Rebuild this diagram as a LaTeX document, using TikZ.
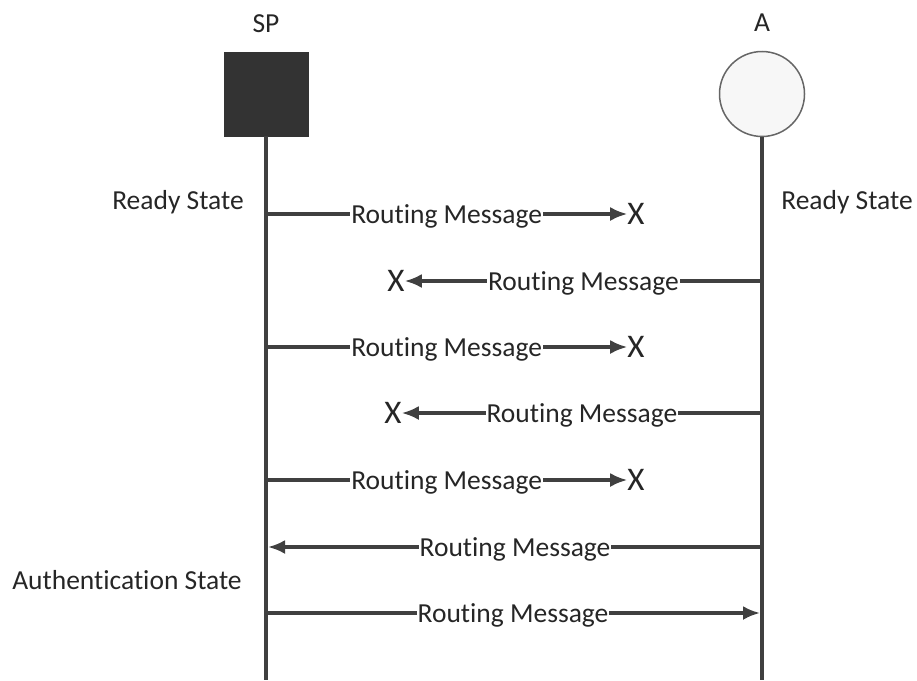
\documentclass[tikz,border=0pt]{standalone}
\usepackage{fontspec}
\setmainfont{Carlito}[Ligatures=NoCommon]
\usetikzlibrary{positioning, arrows.meta}
\definecolor{linegray}{HTML}{404040}
\definecolor{boxgray}{HTML}{333333}
\definecolor{textgray}{HTML}{262626}

\begin{document}
\begin{tikzpicture}[
        x=1pt, y=-1pt,
        every node/.style={font=\fontsize{27.5}{33}\selectfont, text=textgray},
        lifeline/.style={draw=linegray, line width=4.5pt},
        msg/.style={draw=linegray, line width=3.2pt, -{Latex[length=17pt,width=14pt]}},
        lbl/.style={fill=white, inner sep=1pt, text height=18pt, text depth=0pt},
        lost/.style={inner sep=0pt, font=\fontsize{33}{36}\selectfont, text height=21pt, text depth=0pt},
        state/.style={anchor=base}
      ]
      \useasboundingbox (0,0) rectangle (917,680);
      % participants
      \node[draw=boxgray, fill=boxgray, minimum size=84pt, inner sep=0pt] (sp) at (266,94) {};
      \node[circle, draw=black!60, line width=1.5pt, fill=black!3, minimum size=85pt, inner sep=0pt] (a) at (762,94) {};
      \node (sptxt) [above=16pt of sp] {SP};
      \node (atxt) [above=16pt of a] {A};
      \coordinate (spend) at (266,680);
      \coordinate (aend) at (762,680);
      \draw[lifeline] (sp) -- (spend);
      \draw[lifeline] (a) -- (aend);
      % states
      \node[state] (rs1) at (178,209) {Ready State};
      \node[state] (rs2) at (847,209) {Ready State};
      \node[state] (auth) at (127,589) {Authentication State};
      % points on the lifelines
      \coordinate (s1) at (266,214);
      \coordinate (a2) at (762,281);
      \coordinate (s3) at (266,347);
      \coordinate (a4) at (762,413);
      \coordinate (s5) at (266,480);
      \coordinate (a6) at (762,547);
      \coordinate (s6) at (266,547);
      \coordinate (s7) at (266,613);
      \coordinate (a7) at (762,613);
      % lost messages
      \node[lost] (x1) at (636,214) {X};
      \node[lost] (x2) at (396,281) {X};
      \node[lost] (x3) at (636,347) {X};
      \node[lost] (x4) at (393,413) {X};
      \node[lost] (x5) at (636,480) {X};
      \draw[msg] (s1) -- node[lbl] {Routing Message} (x1);
      \draw[msg] (a2) -- node[lbl] {Routing Message} (x2);
      \draw[msg] (s3) -- node[lbl] {Routing Message} (x3);
      \draw[msg] (a4) -- node[lbl] {Routing Message} (x4);
      \draw[msg] (s5) -- node[lbl] {Routing Message} (x5);
      \draw[msg] (a6) -- node[lbl] {Routing Message} ([xshift=2pt]s6);
      \draw[msg] (s7) -- node[lbl] {Routing Message} ([xshift=-2pt]a7);
    \end{tikzpicture}
\end{document}
